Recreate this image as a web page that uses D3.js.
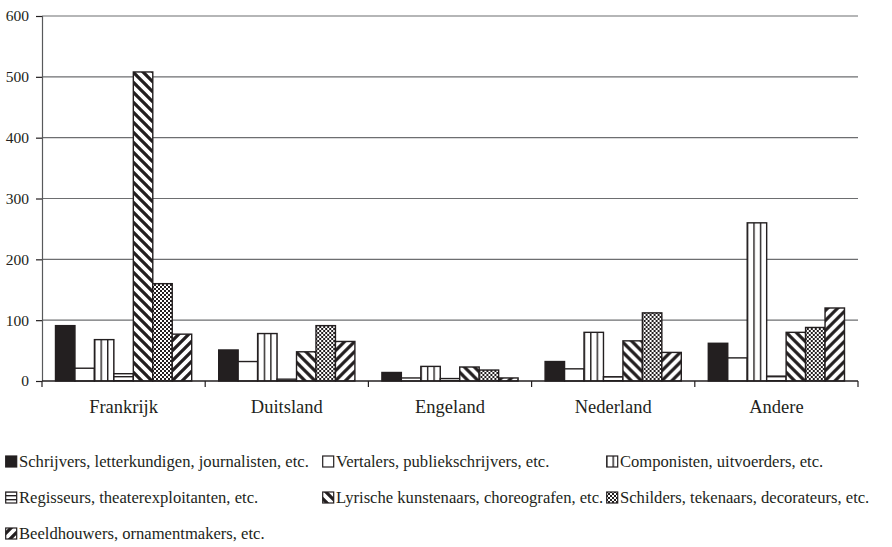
<!DOCTYPE html>
<html>
<head>
<meta charset="utf-8">
<script src="https://cdn.jsdelivr.net/npm/d3@7"></script>
<style>
  html, body { margin: 0; padding: 0; background: #fff; }
  svg { display: block; }
  svg text { font-family: 'Liberation Serif', 'DejaVu Serif', 'Times New Roman', serif !important; fill: #231f20; }
</style>
</head>
<body>
<svg id="chart" width="892" height="547"></svg>
<script>
// Landen (categorieën)
const countries = ["Frankrijk", "Duitsland", "Engeland", "Nederland", "Andere"];

// Beroepsgroepen (reeksen)
const groups = [
  "Schrijvers, letterkundigen, journalisten, etc.",
  "Vertalers, publiekschrijvers, etc.",
  "Componisten, uitvoerders, etc.",
  "Regisseurs, theaterexploitanten, etc.",
  "Lyrische kunstenaars, choreografen, etc.",
  "Schilders, tekenaars, decorateurs, etc.",
  "Beeldhouwers, ornamentmakers, etc."
];

// Aantallen per beroepsgroep, in de volgorde van de landen
const schrijvers   = [91, 51, 14, 32, 62];
const vertalers    = [21, 32, 5, 20, 38];
const componisten  = [68, 78, 24, 80, 260];
const regisseurs   = [12, 3, 4, 7, 8];
const lyrische     = [508, 48, 23, 66, 80];
const schilders    = [160, 91, 18, 112, 88];
const beeldhouwers = [77, 65, 5, 47, 120];

const seriesValues = [schrijvers, vertalers, componisten, regisseurs, lyrische, schilders, beeldhouwers];

// As-labels
const yTicks = [0, 100, 200, 300, 400, 500, 600];

const ink = "#231f20";
const serif = "'Liberation Serif', 'DejaVu Serif', serif";
const svg = d3.select("#chart");

// Arceringen
const defs = svg.append("defs");
function pat(id, w, h, draw) {
  const p = defs.append("pattern").attr("id", id)
    .attr("patternUnits", "userSpaceOnUse").attr("width", w).attr("height", h);
  p.append("rect").attr("width", w).attr("height", h).attr("fill", "#fff");
  draw(p);
}
pat("p-vert", 6.5, 10, p => p.append("rect").attr("x", 0).attr("y", 0).attr("width", 1.4).attr("height", 10).attr("fill", ink));
pat("p-horiz", 10, 4, p => p.append("rect").attr("x", 0).attr("y", 0).attr("width", 10).attr("height", 1.4).attr("fill", ink));
pat("p-back", 10, 10, p => {
  p.append("path").attr("d", "M-5,0 L15,20 M-5,-10 L15,10 M-15,-10 L5,10 M-15,0 L5,20")
    .attr("stroke", ink).attr("stroke-width", 3.2);
});
pat("p-fwd", 10, 10, p => {
  p.append("path").attr("d", "M-5,10 L15,-10 M-5,20 L15,0 M5,20 L25,0 M-15,10 L5,-10")
    .attr("stroke", ink).attr("stroke-width", 3.2);
});
pat("p-check", 4, 4, p => {
  p.append("rect").attr("x", 0).attr("y", 0).attr("width", 2).attr("height", 2).attr("fill", ink);
  p.append("rect").attr("x", 2).attr("y", 2).attr("width", 2).attr("height", 2).attr("fill", ink);
});

const fills = [ink, "#fff", "url(#p-vert)", "url(#p-horiz)", "url(#p-back)", "url(#p-check)", "url(#p-fwd)"];

const margin = { left: 42, right: 34, top: 16, bottom: 166 };
const W = 892, H = 547;
const plotW = W - margin.left - margin.right;
const plotH = H - margin.top - margin.bottom;

const g = svg.append("g").attr("transform", `translate(${margin.left},${margin.top})`);

const x0 = d3.scaleBand().domain(countries).range([0, plotW]).padding(0);
const x1 = d3.scaleBand().domain(d3.range(groups.length))
  .range([13.5, x0.bandwidth() - 13.5]).padding(0);
const y = d3.scaleLinear().domain([0, 600]).range([plotH, 0]);

// Rasterlijnen
g.append("g").selectAll("line").data(yTicks.filter(t => t > 0)).join("line")
  .attr("x1", 0).attr("x2", plotW)
  .attr("y1", d => y(d)).attr("y2", d => y(d))
  .attr("stroke", "#6d6e70").attr("stroke-width", 1.2);

// Staven
const groupG = g.append("g").selectAll("g").data(countries).join("g")
  .attr("transform", d => `translate(${x0(d)},0)`);
groupG.selectAll("rect")
  .data((c, ci) => seriesValues.map((vals, si) => ({ si, v: vals[ci] })))
  .join("rect")
  .attr("x", d => x1(d.si))
  .attr("width", x1.bandwidth())
  .attr("y", d => y(d.v))
  .attr("height", d => plotH - y(d.v))
  .attr("fill", d => fills[d.si])
  .attr("stroke", ink).attr("stroke-width", 1.4);

// Y-as
const yAxis = g.append("g")
  .call(d3.axisLeft(y).tickValues(yTicks).tickSize(6).tickPadding(7).tickFormat(d3.format("d")))
  .attr("font-family", serif);
yAxis.select(".domain").attr("stroke", "#58595b").attr("stroke-width", 1.2).attr("d", `M0.5,${plotH}V0`);
yAxis.selectAll(".tick line").attr("stroke", ink).attr("stroke-width", 1.2);
yAxis.selectAll("text").attr("font-size", 15.5).attr("font-family", serif).attr("fill", ink);

// X-as
const xAxisG = g.append("g").attr("transform", `translate(0,${plotH})`);
xAxisG.append("line").attr("x1", 0).attr("x2", plotW).attr("y1", 0).attr("y2", 0)
  .attr("stroke", ink).attr("stroke-width", 1.4);
xAxisG.selectAll("line.sep").data(d3.range(countries.length + 1)).join("line").attr("class", "sep")
  .attr("x1", i => i * x0.bandwidth()).attr("x2", i => i * x0.bandwidth())
  .attr("y1", 0).attr("y2", 6).attr("stroke", ink).attr("stroke-width", 1.2);
xAxisG.selectAll("text").data(countries).join("text")
  .attr("x", d => x0(d) + x0.bandwidth() / 2).attr("y", 32)
  .attr("text-anchor", "middle").attr("font-family", serif).attr("font-size", 18.5).text(d => d);

// Legenda
const legendPos = [
  [5, 467], [322, 467], [606, 467],
  [5, 503], [322, 503], [606, 503],
  [5, 539]
];
const leg = svg.append("g").selectAll("g").data(groups).join("g")
  .attr("transform", (d, i) => `translate(${legendPos[i][0]},${legendPos[i][1]})`);
leg.append("rect").attr("x", 0.7).attr("y", -11).attr("width", 11).attr("height", 11)
  .attr("fill", (d, i) => fills[i]).attr("stroke", ink).attr("stroke-width", 1.2);
leg.append("text").attr("x", 14).attr("y", 0).attr("font-family", serif).attr("font-size", 16.6).text(d => d);
</script>
</body>
</html>
